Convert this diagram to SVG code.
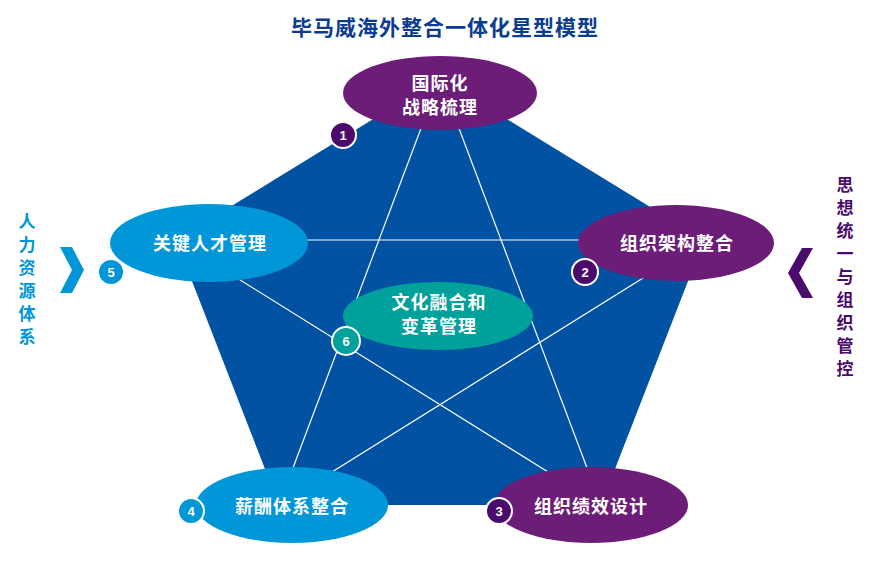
<svg xmlns="http://www.w3.org/2000/svg" width="880" height="568" viewBox="0 0 880 568">
<style>
.t{font-family:"Noto Sans CJK SC","Liberation Sans",sans-serif;font-weight:bold;text-anchor:middle}
.lbl{font-size:18px;fill:#ffffff;letter-spacing:1px}
.num{font-size:13px;fill:#ffffff;font-family:"Liberation Sans",Arial,sans-serif;font-weight:bold;text-anchor:middle}
.cp{fill:#4b0b6d;stroke:#ffffff;stroke-width:2}
.cb{fill:#0096d8;stroke:#ffffff;stroke-width:2}
.ct{fill:#00a19b;stroke:#ffffff;stroke-width:2}
.ep{fill:#6c1d77}
.eb{fill:#0096d8}
.et{fill:#00a19b}
.star line{stroke:#ffffff;stroke-width:1.2}
.vl{font-size:17px;fill:#0096d8}
.vr{font-size:17px;fill:#4b0b6d}
</style>
<rect width="880" height="568" fill="#ffffff"/>
<text class="t" x="445" y="35" font-size="21" fill="#0b3c8f" letter-spacing="1">毕马威海外整合一体化星型模型</text>
<g id="pentagon">
<polygon points="440,78 704,240 601,505 279,505 176,240" fill="#0152a3"/>
</g>
<g id="connectors" class="star">
<line x1="440" y1="78" x2="279" y2="505"/>
<line x1="440" y1="78" x2="601" y2="505"/>
<line x1="176" y1="240" x2="704" y2="240"/>
<line x1="176" y1="240" x2="601" y2="505"/>
<line x1="704" y1="240" x2="279" y2="505"/>
</g>
<g id="node1">
<ellipse class="ep" cx="440" cy="93" rx="97" ry="37"/>
<text class="t lbl" x="440" y="90" font-size="17.5">国际化</text>
<text class="t lbl" x="440" y="114" font-size="17.5">战略梳理</text>
<circle class="cp" cx="343" cy="135" r="13"/>
<text class="num" x="343" y="140">1</text>
</g>
<g id="node2">
<ellipse class="ep" cx="676" cy="243" rx="98" ry="38"/>
<text class="t lbl" x="677" y="250">组织架构整合</text>
<circle class="cp" cx="585" cy="272" r="13"/>
<text class="num" x="585" y="277">2</text>
</g>
<g id="node3">
<ellipse class="ep" cx="591" cy="505" rx="97" ry="38"/>
<text class="t lbl" x="591" y="513">组织绩效设计</text>
<circle class="cp" cx="499" cy="511" r="13"/>
<text class="num" x="499" y="516">3</text>
</g>
<g id="node4">
<ellipse class="eb" cx="292" cy="505" rx="96" ry="38"/>
<text class="t lbl" x="292" y="513">薪酬体系整合</text>
<circle class="cb" cx="191" cy="511" r="13"/>
<text class="num" x="191" y="516">4</text>
</g>
<g id="node5">
<ellipse class="eb" cx="209" cy="243" rx="99" ry="39"/>
<text class="t lbl" x="210" y="250">关键人才管理</text>
<circle class="cb" cx="111" cy="272" r="13"/>
<text class="num" x="111" y="277">5</text>
</g>
<g id="node6">
<ellipse class="et" cx="438" cy="316" rx="95" ry="34"/>
<text class="t lbl" x="439" y="309">文化融合和</text>
<text class="t lbl" x="439" y="333">变革管理</text>
<circle class="ct" cx="346" cy="341" r="14"/>
<text class="num" x="346" y="346">6</text>
</g>
<g id="left-label">
<polygon points="60,247 72,247 84,270 72,293 60,293 72,270" fill="#0096d8"/>
<text class="t vl"><tspan x="27" y="228">人</tspan><tspan x="27" y="251">力</tspan><tspan x="27" y="274">资</tspan><tspan x="27" y="297">源</tspan><tspan x="27" y="320">体</tspan><tspan x="27" y="343">系</tspan></text>
</g>
<g id="right-label">
<polygon points="813,248 802,248 788,273 802,298 813,298 799,273" fill="#4b0b6d"/>
<text class="t vr"><tspan x="845" y="191">思</tspan><tspan x="845" y="214">想</tspan><tspan x="845" y="237">统</tspan><tspan x="845" y="260">一</tspan><tspan x="845" y="283">与</tspan><tspan x="845" y="306">组</tspan><tspan x="845" y="329">织</tspan><tspan x="845" y="352">管</tspan><tspan x="845" y="375">控</tspan></text>
</g>
</svg>
